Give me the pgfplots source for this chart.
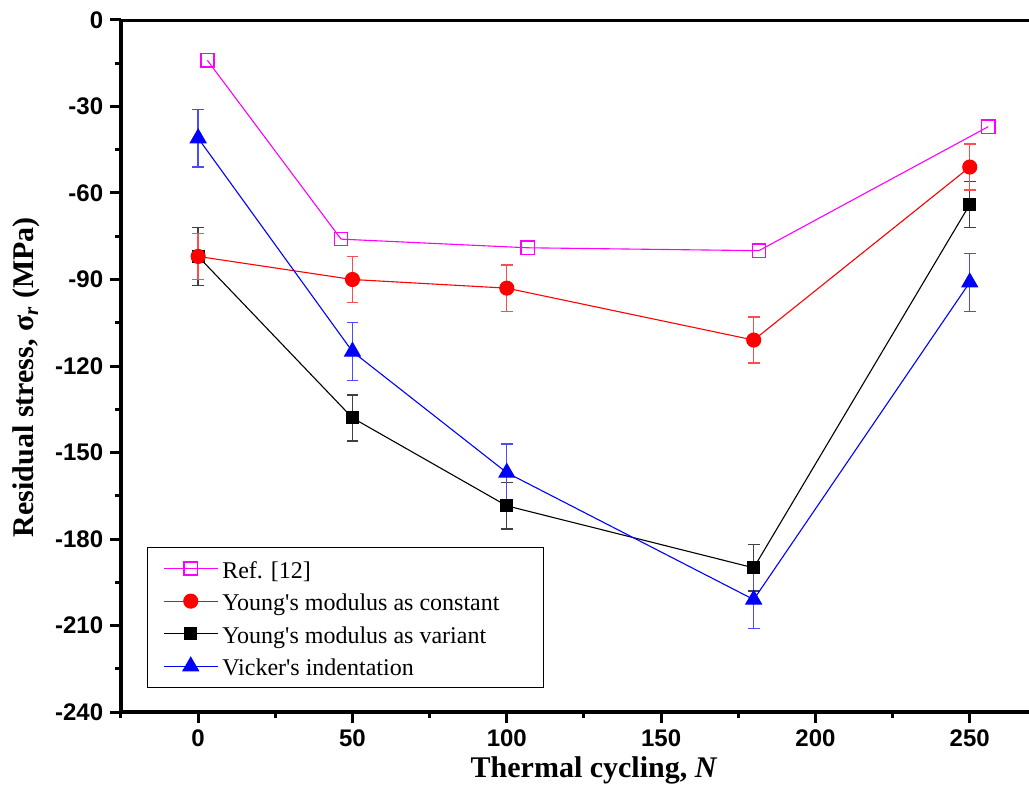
\documentclass[border=0pt]{standalone}
\usepackage{fontspec}
\setmainfont{Liberation Serif}
\newfontfamily\arialfont{Liberation Sans}
\usepackage{pgfplots}
\pgfplotsset{compat=1.18}
\usepackage{pgfplotstable}
\definecolor{mag}{RGB}{255,0,255}

\pgfplotstableread{
x y
3 -14
46.3 -76
106.8 -79
181.7 -80
256 -37
}\refdata
\pgfplotstableread{
x y e
0 -82 8
50 -90 8
100 -93 8
180 -111 8
250 -51 8
}\reddata
\pgfplotstableread{
x y e
0 -82 10
50 -138 8
100 -168.5 8
180 -190 8
250 -64 8
}\blackdata
\pgfplotstableread{
x y e
0 -41 10
50 -115 10
100 -157 10
180 -201 10
250 -91 10
}\bluedata

\pgfplotsset{
  refstyle/.style={color=mag, line width=0.55pt, mark=square, mark size=3.3pt, mark options={solid, line width=0.7pt}},
  redstyle/.style={color=red, line width=0.55pt, mark=*, mark size=3.5pt, mark options={solid}},
  blackstyle/.style={color=black, line width=0.55pt, mark=square*, mark size=3pt, mark options={solid}},
  bluestyle/.style={color=blue, line width=0.55pt, mark=triangle*, mark size=4.5pt, mark options={solid}},
}

\begin{document}
\begin{tikzpicture}
\begin{axis}[
  name=ax,
  width=454pt, height=346pt, scale only axis,
  xmin=-25, xmax=269.2, ymin=-240, ymax=0,
  axis x line*=bottom, axis y line*=left,
  axis line style={line width=2.3pt},
  tick align=outside,
  xtick={0,50,...,250}, minor xtick={-25,25,75,125,175,225},
  ytick={-240,-210,...,0}, minor ytick={-225,-195,...,-15},
  major tick length=5.4pt, minor tick length=3pt,
  every tick/.style={line width=1.5pt, black},
  tick label style={font=\arialfont\bfseries\fontsize{12}{14}\selectfont},
  /pgf/number format/assume math mode=true,
  scaled ticks=false,
  xlabel={\textbf{Thermal cycling, \textit{N}}},
  ylabel={\textbf{Residual stress, σ\textsubscript{\textit{r}} (MPa)}},
  label style={font=\fontsize{15}{18}\selectfont},
  xlabel style={at={(axis description cs:0.521,-0.0838)}, anchor=center},
  ylabel style={at={(axis description cs:-0.1039,0.484)}, anchor=center},
  legend style={at={(axis description cs:0.0283,0.0342)}, anchor=south west, draw=black, line width=0.5pt,
    inner xsep=8pt, inner ysep=4pt, font=\fontsize{12}{14}\selectfont,
    nodes={inner xsep=2pt, inner ysep=1pt, text height=10.5pt, text depth=1pt}, row sep=2.8pt},
  legend cell align=left,
  legend image code/.code={\draw[mark repeat=2,mark phase=2] plot coordinates {(0pt,0pt) (13.5pt,0pt) (27pt,0pt)};},
]
\addlegendimage{refstyle}
\addlegendentry{Ref. [12]}
\addlegendimage{redstyle}
\addlegendentry{Young\textquotesingle s modulus as constant\hspace*{12pt}}
\addlegendimage{blackstyle}
\addlegendentry{Young\textquotesingle s modulus as variant}
\addlegendimage{bluestyle}
\addlegendentry{Vicker\textquotesingle s indentation}

\addplot[forget plot, blackstyle, error bars/.cd, y dir=both, y explicit,
  error bar style={line width=0.7pt, black!75},
  error mark options={rotate=90, mark size=2.9pt, line width=0.7pt, black!75}]
  table[x=x, y=y, y error=e] {\blackdata};
\addplot[forget plot, redstyle, error bars/.cd, y dir=both, y explicit,
  error bar style={line width=0.7pt, red!70},
  error mark options={rotate=90, mark size=2.9pt, line width=0.7pt, red!70}]
  table[x=x, y=y, y error=e] {\reddata};
\addplot[forget plot, bluestyle, error bars/.cd, y dir=both, y explicit,
  error bar style={line width=0.7pt, blue!70},
  error mark options={rotate=90, mark size=2.9pt, line width=0.7pt, blue!70}]
  table[x=x, y=y, y error=e] {\bluedata};
\addplot[forget plot, refstyle] table[x=x, y=y] {\refdata};

\draw[line width=2.3pt] (rel axis cs:0,1) -- (rel axis cs:1,1);
\end{axis}
\pgfresetboundingbox
\path ([xshift=-60.5pt,yshift=-49pt]ax.south west) rectangle ([yshift=10pt]ax.north east);
\end{tikzpicture}
\end{document}
